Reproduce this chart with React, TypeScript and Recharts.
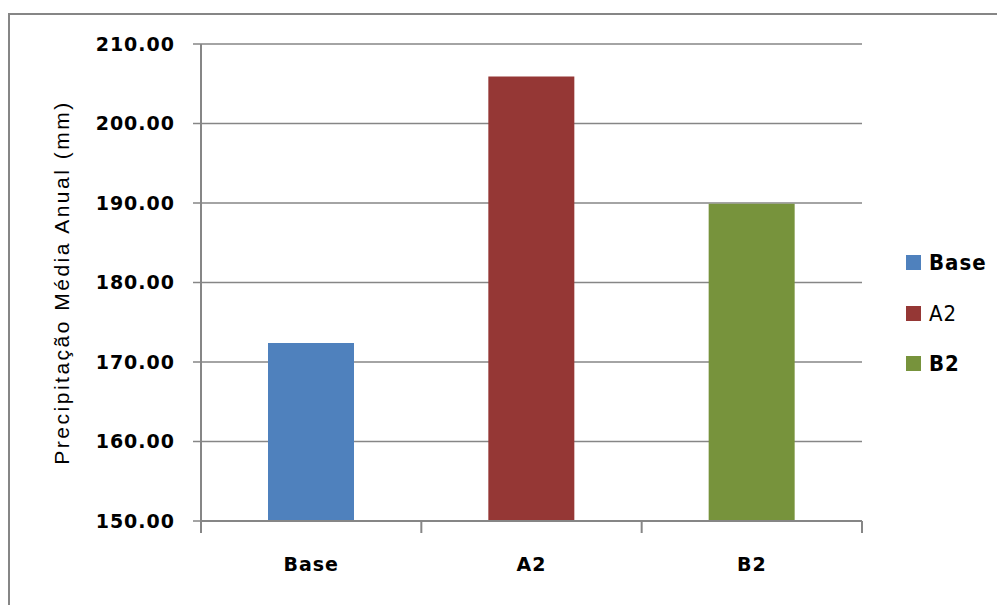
import { BarChart, Bar, XAxis, YAxis, CartesianGrid, Cell } from 'recharts';

// Precipitação média anual por cenário
const categories = ['Base', 'A2', 'B2'];
const values = [172.4, 205.9, 189.9];
const colors = ['#4F81BD', '#953735', '#77933C'];
const yTicks = [150, 160, 170, 180, 190, 200, 210];

const data = categories.map((name, i) => ({ name, value: values[i] }));

const GRID = '#868686';
const LABEL_GAP = 37;
const tickFont = {
  fontFamily: '"DejaVu Sans", sans-serif',
  fontSize: 19,
  fontWeight: 'bold',
  letterSpacing: 1,
  fill: '#000',
};

// category label + Excel-style tick marks on the category boundaries
function CategoryTick(props: any) {
  const { x, y, payload, index, visibleTicksCount } = props;
  const half = payload && payload.offset ? payload.offset : 110;
  const axisY = y - LABEL_GAP;
  const mark = (px: number) => (
    <line x1={px} x2={px} y1={axisY} y2={axisY + 12} stroke={GRID} strokeWidth={2} />
  );
  return (
    <g>
      {mark(x - half)}
      {index === visibleTicksCount - 1 && mark(x + half)}
      <text x={x} y={y} dy="0.71em" textAnchor="middle" style={tickFont}>
        {payload.value}
      </text>
    </g>
  );
}

export default function App() {
  return (
    <div style={{ position: 'absolute', left: 0, top: 0, width: 997, height: 605, overflow: 'hidden', background: '#fff' }}>
      <div
        style={{
          position: 'absolute',
          left: 8,
          top: 13,
          width: 1100,
          height: 700,
          border: `2px solid ${GRID}`,
        }}
      />
      <div style={{ position: 'absolute', left: 0, top: 0 }}>
        <BarChart width={997} height={605} data={data} margin={{ top: 44, right: 135, bottom: 0, left: 0 }}>
          <CartesianGrid vertical={false} stroke={GRID} strokeWidth={1.5} />
          <XAxis
            dataKey="name"
            height={84}
            axisLine={{ stroke: GRID, strokeWidth: 2 }}
            tickLine={false}
            tickSize={0}
            tickMargin={LABEL_GAP}
            tick={<CategoryTick />}
            interval={0}
          />
          <YAxis
            width={201}
            domain={[150, 210]}
            ticks={yTicks}
            allowDataOverflow
            tickFormatter={(v: number) => v.toFixed(2)}
            tickSize={8}
            tickMargin={18}
            tick={tickFont}
            axisLine={{ stroke: GRID, strokeWidth: 2 }}
            tickLine={{ stroke: GRID, strokeWidth: 1.5 }}
            label={{
              value: 'Precipitação Média Anual (mm)',
              angle: -90,
              position: 'insideLeft',
              offset: 62,
              style: {
                textAnchor: 'middle',
                fontFamily: '"Liberation Sans", Arial, sans-serif',
                fontSize: 21,
                letterSpacing: 2.5,
                fill: '#000',
              },
            }}
          />
          <Bar dataKey="value" barSize={86} isAnimationActive={false}>
            {data.map((d, i) => (
              <Cell key={d.name} fill={colors[i]} />
            ))}
          </Bar>
        </BarChart>
      </div>
      {/* legend */}
      <div style={{ position: 'absolute', left: 906, top: 250 }}>
        {categories.map((c, i) => (
          <div key={c} style={{ display: 'flex', alignItems: 'center', height: 25, marginBottom: 25.5 }}>
            <div style={{ width: 15, height: 15, background: colors[i], marginRight: 8 }} />
            <span
              style={{
                fontFamily: '"Liberation Sans Narrow", "DejaVu Sans Condensed", sans-serif',
                fontSize: 22,
                fontWeight: i === 1 ? 400 : 700,
                letterSpacing: 1,
                color: '#000',
              }}
            >
              {c}
            </span>
          </div>
        ))}
      </div>
    </div>
  );
}
